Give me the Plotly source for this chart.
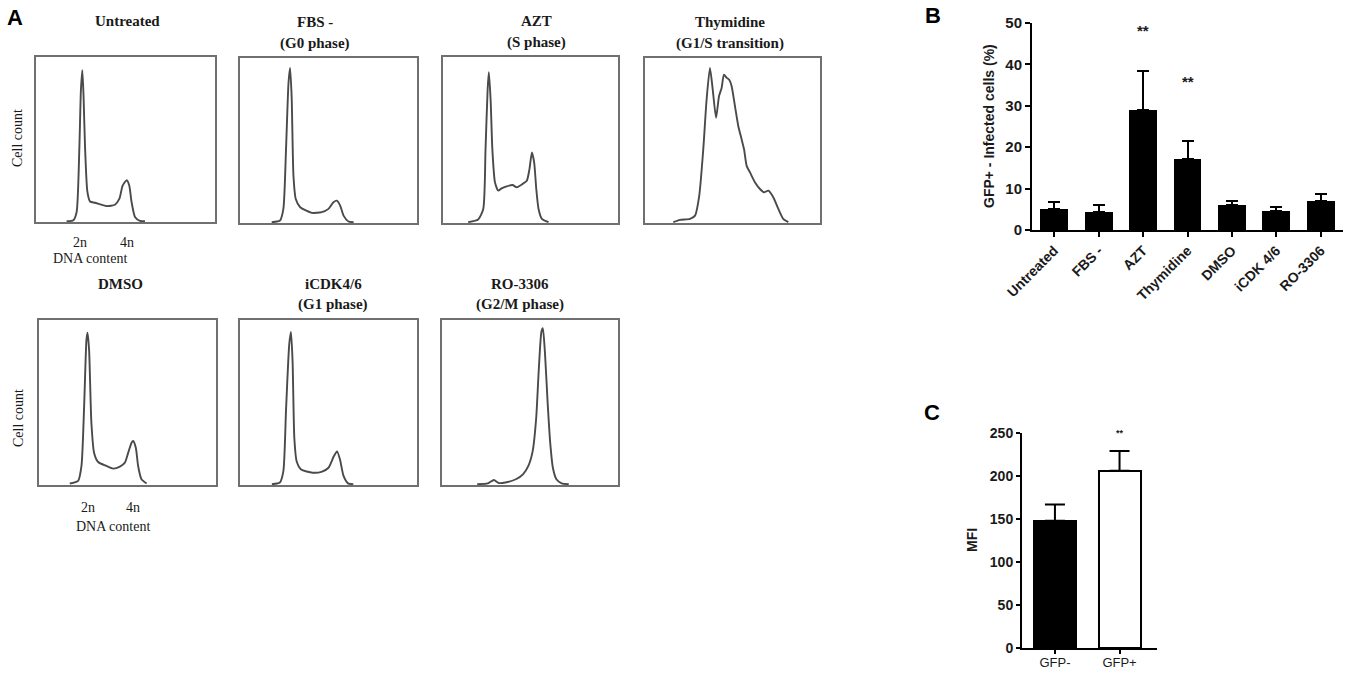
import plotly.graph_objects as go

W, H = 1347, 673

# flow cytometry histograms, x = % of box width, y = % of box height
UNTREATED_X = [17.1, 20.9, 22.7, 24.2, 25.1, 25.9, 26.6, 27.4, 28.7, 30.2, 33.0, 39.5, 44.1, 46.6, 48.4, 50.7, 52.1, 53.4, 55.3, 58.1, 60.9]
UNTREATED_Y = [0, 0.6, 5.6, 43.8, 80, 92, 75, 45, 18, 12, 11.2, 9.2, 10, 13.7, 21.7, 25, 21.7, 11.6, 2.6, 0.2, 0]
FBS_X = [17.9, 22.6, 24.5, 26.0, 27.4, 28.3, 29.2, 30.2, 31.5, 34.0, 40.6, 46.2, 50.0, 52.8, 54.7, 56.6, 58.5, 61.3, 64.2]
FBS_Y = [0, 1, 8.1, 44.4, 84.8, 94, 75.8, 28.3, 14.1, 9.1, 5.7, 6.1, 8.1, 12.1, 13.1, 10.1, 4, 0.4, 0]
AZT_X = [14.4, 20.1, 23.0, 24.3, 25.5, 26.2, 27.2, 28.2, 29.7, 31.6, 33.5, 36.4, 39.7, 42.1, 45.4, 47.9, 49.4, 50.8, 52.1, 53.3, 54.6, 56.5, 60.3]
AZT_Y = [0, 1.6, 8, 44.2, 80.3, 90.8, 74.3, 44.2, 24.1, 19.1, 20.5, 21.7, 22.5, 21.1, 23.1, 25.1, 32.1, 42.2, 36.1, 20.1, 8, 2, 0]
THYMIDINE_X = [16.2, 20.0, 25.7, 28.6, 31.0, 33.3, 35.2, 37.1, 38.7, 40.6, 42.3, 43.8, 45.1, 46.7, 48.0, 49.5, 51.4, 53.3, 55.2, 56.6, 58.1, 60.0, 62.9, 65.7, 68.0, 70.5, 73.3, 76.2, 79.0, 81.9]
THYMIDINE_Y = [0, 1.4, 2, 4, 16.2, 44.4, 74.7, 93.9, 80.8, 63.6, 76.8, 81.8, 89.9, 87.9, 86.9, 82.8, 70.7, 58.6, 50.5, 44.4, 34.3, 30.3, 24.2, 20.2, 18.2, 19.2, 15.2, 8.1, 2, 0]
DMSO_X = [17.4, 22.1, 24.0, 25.5, 26.8, 27.4, 28.3, 29.6, 31.1, 33.4, 38.1, 41.9, 45.7, 48.5, 50.4, 52.3, 53.2, 54.7, 56.0, 57.9, 60.8]
DMSO_Y = [0.4, 2, 11.1, 47.5, 87.9, 92.3, 81.8, 37.4, 19.2, 13.5, 11.1, 9.5, 10.7, 13.1, 19.2, 25.3, 26.3, 22.2, 11.1, 3, 0.4]
ICDK_X = [18.0, 22.5, 24.5, 26.0, 27.8, 28.8, 29.7, 30.7, 32.0, 34.5, 41.0, 46.0, 50.0, 53.0, 54.8, 56.5, 58.5, 61.0, 64.0]
ICDK_Y = [0, 1, 8, 45, 85, 92.7, 75, 28, 14, 9, 7, 7.5, 10, 17, 20, 15, 5, 0.5, 0]
RO_X = [20.0, 26.0, 29.5, 32.0, 36.0, 42.0, 46.0, 49.0, 51.5, 53.5, 55.0, 56.5, 57.3, 58.5, 60.0, 61.5, 63.0, 65.0, 68.0, 72.0]
RO_Y = [0, 0.5, 2.5, 0.8, 1, 3, 6, 11, 20, 40, 70, 93, 95, 80, 50, 25, 10, 3, 0.5, 0]

# panel B
B_CATS = ["Untreated", "FBS -", "AZT", "Thymidine", "DMSO", "iCDK 4/6", "RO-3306"]
B_MEAN = [5.0, 4.4, 29.0, 17.2, 6.0, 4.5, 7.1]
B_TOP = [6.7, 6.0, 38.5, 21.4, 7.1, 5.6, 8.6]
B_STARS = {"AZT": 48.2, "Thymidine": 35.8}

# panel C
C_CATS = ["GFP-", "GFP+"]
C_MEAN = [148, 206]
C_TOP = [167, 229]

SERIF = "Liberation Serif"
SANS = "Liberation Sans"


def dom(x0, x1, y0, y1):
    return [x0 / W, x1 / W], [1 - y1 / H, 1 - y0 / H]


def px(x, y):
    return x / W, 1 - y / H


hists = [
    (["Untreated"], UNTREATED_X, UNTREATED_Y, (36, 215, 57, 222), 127),
    (["FBS -", "(G0 phase)"], FBS_X, FBS_Y, (240, 417, 58, 223), 315),
    (["AZT", "(S phase)"], AZT_X, AZT_Y, (443, 618, 57, 223), 536),
    (["Thymidine", "(G1/S transition)"], THYMIDINE_X, THYMIDINE_Y, (645, 820, 58, 223), 730),
    (["DMSO"], DMSO_X, DMSO_Y, (39, 216, 320, 485), 120),
    (["iCDK4/6", "(G1 phase)"], ICDK_X, ICDK_Y, (240, 417, 320, 485), 333),
    (["RO-3306", "(G2/M phase)"], RO_X, RO_Y, (442, 618, 320, 485), 520),
]

fig = go.Figure()
annotations = []
layout = {}


def note(text, x, y, size, family=SERIF, bold=False, angle=0, color="#1a1a1a"):
    xx, yy = px(x, y)
    annotations.append(dict(
        text=f"<b>{text}</b>" if bold else text, x=xx, y=yy, xref="paper", yref="paper",
        showarrow=False, xanchor="center", yanchor="middle", textangle=angle,
        font=dict(family=family, size=size, color=color),
    ))


for i, (title, xs, ys, box, tx) in enumerate(hists, start=1):
    sfx = "" if i == 1 else str(i)
    fig.add_trace(go.Scatter(
        x=xs, y=ys, mode="lines", xaxis=f"x{sfx}", yaxis=f"y{sfx}", showlegend=False, hoverinfo="skip",
        line=dict(color="#4a4a4a", width=1.9, shape="spline", smoothing=0.6),
    ))
    xd, yd = dom(*box)
    common = dict(showline=True, mirror=True, linecolor="#707070", linewidth=1.6, showgrid=False,
                  zeroline=False, showticklabels=False, ticks="", fixedrange=True, automargin=False)
    layout[f"xaxis{sfx}"] = dict(domain=xd, range=[0, 100], anchor=f"y{sfx}", **common)
    layout[f"yaxis{sfx}"] = dict(domain=yd, range=[-0.5, 100], anchor=f"x{sfx}", **common)
    top = box[2]
    if len(title) == 1:
        note(title[0], tx, top - 36, 15, bold=True)
    else:
        note(title[0], tx, top - 36, 15, bold=True)
        note(title[1], tx, top - 15, 15, bold=True)

# cell count / DNA content labels
note("Cell count", 18, 138, 14, angle=-90)
note("Cell count", 18, 418, 14, angle=-90)
note("2n", 80, 242, 14)
note("4n", 127, 242, 14)
note("DNA content", 90, 258, 14)
note("2n", 88, 507, 14)
note("4n", 133, 507, 14)
note("DNA content", 113, 526, 14)

# panel letters
note("A", 15, 17, 22, family=SANS, bold=True, color="black")
note("B", 933, 15, 22, family=SANS, bold=True, color="black")
note("C", 932, 412, 22, family=SANS, bold=True, color="black")

# panel B
fig.add_trace(go.Bar(
    x=B_CATS, y=B_MEAN, xaxis="x8", yaxis="y8", width=0.63, showlegend=False,
    marker=dict(color="black", line=dict(width=0)),
    error_y=dict(type="data", symmetric=False, array=[t - m for t, m in zip(B_TOP, B_MEAN)],
                 arrayminus=[0] * len(B_MEAN), color="black", thickness=2, width=6),
))
xd, yd = dom(1032, 1343, 23, 230)
axis_b = dict(showline=True, linecolor="black", linewidth=2, ticks="outside", ticklen=5, tickwidth=2,
              tickcolor="black", showgrid=False, zeroline=False, fixedrange=True, automargin=False)
layout["xaxis8"] = dict(domain=xd, anchor="y8", range=[-0.5, 6.5], tickangle=-45,
                        tickfont=dict(family=SANS, size=14, color="#1a1a1a", weight="bold"), **axis_b)
layout["yaxis8"] = dict(domain=yd, anchor="x8", range=[0, 50], tickvals=[0, 10, 20, 30, 40, 50],
                        tickfont=dict(family=SANS, size=15, color="#1a1a1a", weight="bold"), **axis_b)
for cat, yv in B_STARS.items():
    annotations.append(dict(text="<b>**</b>", x=cat, y=yv, xref="x8", yref="y8", showarrow=False,
                            font=dict(family=SANS, size=15, color="#1a1a1a")))
note("GFP+ - Infected cells (%)", 989, 126, 14, family=SANS, bold=True, angle=-90)

# panel C
fig.add_trace(go.Bar(
    x=C_CATS, y=C_MEAN, xaxis="x9", yaxis="y9", width=0.65, showlegend=False,
    marker=dict(color=["black", "white"], line=dict(color="black", width=2)),
    error_y=dict(type="data", symmetric=False, array=[t - m for t, m in zip(C_TOP, C_MEAN)],
                 arrayminus=[0] * len(C_MEAN), color="black", thickness=2, width=10),
))
xd, yd = dom(1022, 1157, 433, 648)
axis_c = {**axis_b, "ticklen": 4}
layout["xaxis9"] = dict(domain=xd, anchor="y9", range=[-0.51, 1.58], ticklabelstandoff=-3,
                        tickfont=dict(family=SANS, size=13, color="#1a1a1a"), **axis_c)
layout["yaxis9"] = dict(domain=yd, anchor="x9", range=[0, 250], tickvals=[0, 50, 100, 150, 200, 250],
                        tickfont=dict(family=SANS, size=14, color="#1a1a1a", weight="bold"), **axis_c)
annotations.append(dict(text="<b>**</b>", x="GFP+", y=250, xref="x9", yref="y9", showarrow=False,
                        font=dict(family=SANS, size=9, color="#1a1a1a")))
note("MFI", 972, 540, 14, family=SANS, bold=True, angle=-90)

fig.update_layout(
    width=W, height=H, margin=dict(l=0, r=0, t=0, b=0),
    paper_bgcolor="white", plot_bgcolor="white", annotations=annotations, bargap=0, **layout,
)
# the page body has a default 8px margin; drop it so the figure sits flush in the window
fig.write_html("out.html", config={"displayModeBar": False},
               post_script="document.body.style.margin = '0';")
